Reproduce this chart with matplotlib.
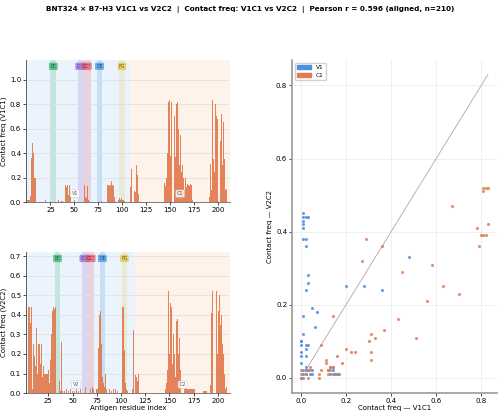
import numpy as np
import matplotlib
matplotlib.use('Agg')
import matplotlib.pyplot as plt
from matplotlib.patches import Patch

# ------------------------------------------------------------------
# Per-residue contact frequencies
# ------------------------------------------------------------------
# V1C1 : residues 1..209
v1c1 = {
    1: 0.02, 2: 0.02, 3: 0.02, 4: 0.05, 5: 0.36, 6: 0.48, 7: 0.40, 8: 0.20, 9: 0.20,
    10: 0.05, 11: 0.06, 12: 0.02, 20: 0.02, 24: 0.005, 25: 0.005, 26: 0.005, 27: 0.005,
    28: 0.005, 29: 0.005, 30: 0.005, 31: 0.005, 33: 0.02, 34: 0.025, 35: 0.02, 36: 0.02,
    37: 0.01, 38: 0.01, 41: 0.14, 42: 0.12, 43: 0.14, 44: 0.06, 45: 0.14, 46: 0.04,
    50: 0.02, 60: 0.13, 61: 0.14, 62: 0.04, 63: 0.03, 64: 0.13, 65: 0.02, 78: 0.01,
    85: 0.14, 86: 0.14, 87: 0.13, 88: 0.14, 89: 0.17, 90: 0.14, 91: 0.13, 92: 0.04,
    96: 0.02, 97: 0.03, 98: 0.02, 99: 0.03, 100: 0.02, 101: 0.02, 102: 0.01,
    109: 0.12, 110: 0.27, 113: 0.09, 114: 0.08, 115: 0.30, 116: 0.22, 117: 0.07,
    144: 0.16, 145: 0.13, 146: 0.20, 147: 0.40, 148: 0.82, 149: 0.83, 150: 0.38,
    151: 0.82, 152: 0.30, 153: 0.50, 154: 0.80, 155: 0.70, 156: 0.37, 157: 0.80,
    158: 0.82, 159: 0.60, 160: 0.30, 161: 0.55, 162: 0.25, 163: 0.30, 164: 0.20,
    165: 0.10, 166: 0.20, 167: 0.12, 168: 0.15, 169: 0.14, 170: 0.13, 171: 0.15,
    172: 0.14, 173: 0.02, 177: 0.03,
    191: 0.04, 192: 0.31, 193: 0.10, 194: 0.83, 195: 0.35, 196: 0.25, 197: 0.80,
    198: 0.70, 199: 0.68, 200: 0.30, 201: 0.82, 202: 0.82, 203: 0.50, 204: 0.72,
    205: 0.30, 206: 0.65, 207: 0.35, 208: 0.10, 209: 0.11,
}
# V2C2 : residues 1..211
v2c2 = {
    2: 0.41, 3: 0.42, 4: 0.44, 5: 0.44, 6: 0.44, 7: 0.36, 8: 0.44, 9: 0.02, 10: 0.25,
    11: 0.19, 12: 0.14, 13: 0.33, 14: 0.10, 15: 0.25, 16: 0.25, 17: 0.15, 18: 0.25,
    19: 0.08, 20: 0.14, 21: 0.10, 22: 0.10, 23: 0.10, 24: 0.10, 25: 0.12, 26: 0.05,
    27: 0.17, 28: 0.30, 29: 0.42, 30: 0.44, 31: 0.43, 32: 0.44, 33: 0.45, 34: 0.44,
    35: 0.42, 36: 0.10, 37: 0.06, 38: 0.01, 39: 0.26, 40: 0.01, 42: 0.01, 44: 0.02,
    46: 0.01, 48: 0.02, 50: 0.01, 52: 0.01, 54: 0.02, 56: 0.01, 58: 0.02, 63: 0.03,
    65: 0.02, 67: 0.03, 69: 0.02, 71: 0.03, 72: 0.02, 75: 0.02, 76: 0.02, 77: 0.23,
    78: 0.40, 79: 0.42, 80: 0.25, 81: 0.08, 82: 0.05, 83: 0.03, 84: 0.10, 85: 0.02,
    88: 0.02, 90: 0.01, 92: 0.02, 94: 0.02, 96: 0.01, 98: 0.02, 100: 0.02, 101: 0.08,
    102: 0.44, 103: 0.44, 104: 0.22, 105: 0.05, 106: 0.02, 107: 0.01, 112: 0.02,
    113: 0.32, 115: 0.09, 116: 0.08, 117: 0.06, 118: 0.10,
    146: 0.02, 147: 0.05, 148: 0.12, 149: 0.52, 150: 0.20, 151: 0.46, 152: 0.44,
    153: 0.15, 154: 0.30, 155: 0.20, 156: 0.08, 157: 0.37, 158: 0.38, 159: 0.20,
    160: 0.28, 161: 0.12, 162: 0.06, 163: 0.04, 164: 0.02, 165: 0.02, 166: 0.02,
    167: 0.03, 168: 0.02, 169: 0.02, 170: 0.02, 171: 0.02, 172: 0.02, 173: 0.02,
    174: 0.02, 175: 0.02, 176: 0.02, 185: 0.01, 186: 0.01, 187: 0.01, 188: 0.01,
    192: 0.04, 193: 0.41, 194: 0.52, 195: 0.17, 196: 0.45, 197: 0.50, 198: 0.35,
    199: 0.52, 200: 0.20, 201: 0.42, 202: 0.50, 203: 0.35, 204: 0.40, 205: 0.25,
    206: 0.20, 207: 0.10, 208: 0.02, 209: 0.03,
}
n_res1 = 209
n_res2 = 211

# Domain boundaries (V / C) and loops for each construct
dom1 = [('V1', 0, 108), ('C1', 108, 213)]
dom2 = [('V2', 0, 114), ('C2', 114, 213)]
loops1 = [('BC', 25, 31), ("C'C", 54, 58.6), ("CC'", 58.6, 67), ('DE', 74, 78.5), ('FG', 97, 102.5)]
loops2 = [('BC', 32, 37), ("C'C", 60, 65), ("CC'", 65, 72), ('DE', 78, 83.5), ('FG', 101, 106)]

# Aligned residue pairs: x = V1C1 freq, y = V2C2 freq
v_x = [0.01, 0.01, 0.02, 0.03, 0.01, 0.01, 0.01, 0.01, 0.02, 0.02, 0.03, 0.03, 0.02,
       0.20, 0.28, 0.36, 0.48, 0.05, 0.07, 0.01, 0.06, 0.01, 0.00, 0.00, 0.00, 0.02,
       0.03, 0.02, 0.00, 0.00, 0.02, 0.00, 0.02, 0.02, 0.01, 0.03, 0.05, 0.05, 0.13,
       0.14, 0.12, 0.14, 0.13, 0.14, 0.15, 0.16, 0.17, 0.00, 0.01, 0.02, 0.04, 0.01]
v_y = [0.45, 0.44, 0.44, 0.44, 0.43, 0.42, 0.41, 0.38, 0.38, 0.36, 0.28, 0.26, 0.24,
       0.25, 0.25, 0.24, 0.33, 0.19, 0.18, 0.17, 0.14, 0.12, 0.10, 0.10, 0.09, 0.09,
       0.09, 0.08, 0.07, 0.06, 0.06, 0.04, 0.03, 0.02, 0.02, 0.02, 0.02, 0.01, 0.03,
       0.03, 0.02, 0.02, 0.01, 0.01, 0.01, 0.01, 0.01, 0.00, 0.00, 0.01, 0.01, 0.01]
c_x = [0.67, 0.81, 0.82, 0.83, 0.81, 0.78, 0.83, 0.80, 0.81, 0.82, 0.79, 0.29, 0.36,
       0.27, 0.58, 0.45, 0.63, 0.70, 0.56, 0.14, 0.43, 0.37, 0.31, 0.33, 0.51, 0.30,
       0.09, 0.20, 0.22, 0.24, 0.31, 0.16, 0.31, 0.11, 0.11, 0.18, 0.04, 0.13, 0.14,
       0.02, 0.04, 0.09, 0.12, 0.13, 0.00, 0.02, 0.08, 0.15, 0.16, 0.00, 0.03, 0.08,
       0.00, 0.12]
c_y = [0.47, 0.52, 0.52, 0.52, 0.51, 0.41, 0.42, 0.39, 0.39, 0.39, 0.36, 0.38, 0.36,
       0.32, 0.31, 0.29, 0.25, 0.23, 0.21, 0.17, 0.16, 0.13, 0.12, 0.11, 0.11, 0.10,
       0.09, 0.08, 0.07, 0.07, 0.07, 0.06, 0.05, 0.05, 0.04, 0.04, 0.03, 0.03, 0.03,
       0.02, 0.02, 0.02, 0.02, 0.02, 0.01, 0.01, 0.01, 0.01, 0.01, 0.00, 0.00, 0.00,
       0.02, 0.01]

title = ("BNT324 \u00d7 B7-H3 V1C1 vs V2C2  |  Contact freq: V1C1 vs V2C2  |  "
         "Pearson r = 0.596 (aligned, n=210)")

# ------------------------------------------------------------------
bar_color = '#e0703f'
dom_colors = {'V': '#e6f1fd', 'C': '#fdf0e6'}
loop_colors = {'BC': '#3cb371', "C'C": '#9370db', "CC'": '#e06070', 'DE': '#4a9be0', 'FG': '#e6c84a'}
loop_text = {'BC': '#1e6b3c', "C'C": '#4b2a8a', "CC'": '#8b1e2e', 'DE': '#1d4f80', 'FG': '#6b5a10'}

plt.rcParams['font.size'] = 5
plt.rcParams['axes.linewidth'] = 0.6

fig = plt.figure(figsize=(5.0, 4.16), dpi=100)
ax1 = fig.add_axes([0.052, 0.514, 0.408, 0.342])
ax2 = fig.add_axes([0.052, 0.055, 0.408, 0.339])
ax3 = fig.add_axes([0.584, 0.055, 0.41, 0.801])


def profile(ax, freqs, n_res, doms, loops, ylab, ymax, xlim):
    res = np.arange(1, n_res + 1)
    vals = np.array([freqs.get(r, 0.0) for r in res])
    for name, a, b in doms:
        ax.axvspan(a, b, color=dom_colors[name[0]], alpha=0.8, lw=0, zorder=0)
    for i, (name, a, b) in enumerate(loops):
        ax.axvspan(a, b, color=loop_colors[name], alpha=0.22, lw=0, zorder=1)
        ax.text((a + b) / 2, ymax * 0.955, name, ha='center', va='center', fontsize=3.4,
                color=loop_text[name], zorder=5 + i,
                bbox=dict(boxstyle='round,pad=0.25', fc=loop_colors[name], ec='none', alpha=0.75))
    ax.bar(res, vals, width=0.9, color=bar_color, alpha=0.85, lw=0, zorder=3)
    for name, a, b in doms:
        cx = a + (b - a) * (0.47 if name[0] == 'V' else 0.5)
        ax.text(cx, ymax * 0.06, name, ha='center', va='center', fontsize=3.6, color='#555555',
                zorder=12, bbox=dict(boxstyle='round,pad=0.25', fc='white', ec='#bbbbbb', lw=0.3, alpha=0.8))
    ax.set_xlim(*xlim)
    ax.set_ylim(0, ymax)
    ax.set_xticks([25, 50, 75, 100, 125, 150, 175, 200])
    ax.grid(axis='y', color='#dddddd', lw=0.5, zorder=2)
    ax.set_axisbelow(False)
    ax.set_ylabel(ylab, fontsize=5, labelpad=2)
    for s in ['top', 'right']:
        ax.spines[s].set_visible(False)
    ax.spines['left'].set_color('#444444')
    ax.spines['bottom'].set_color('#666666')
    ax.tick_params(length=2, width=0.5, pad=1.5, labelsize=5)


profile(ax1, v1c1, n_res1, dom1, loops1, 'Contact freq (V1C1)', 1.16, (-0.5, 212.5))
ax1.set_yticks([0, 0.2, 0.4, 0.6, 0.8, 1.0])
profile(ax2, v2c2, n_res2, dom2, loops2, 'Contact freq (V2C2)', 0.72, (2, 212.5))
ax2.set_yticks([0, 0.1, 0.2, 0.3, 0.4, 0.5, 0.6, 0.7])
ax2.set_xlabel('Antigen residue index', fontsize=5, labelpad=1)

# Scatter of aligned residues
ax3.scatter(v_x, v_y, s=5, color='#4a8fe0', alpha=0.85, lw=0, zorder=3)
ax3.scatter(c_x, c_y, s=5, color='#e07b54', alpha=0.85, lw=0, zorder=3)
all_x = v_x + c_x
lo, hi = min(all_x) + 0.03, max(all_x)
ax3.plot([lo, hi], [lo, hi], color='#aaaaaa', lw=0.6, zorder=2)
ax3.set_xlim(-0.04, 0.87)
ax3.set_ylim(-0.042, 0.87)
ax3.set_xticks([0.0, 0.2, 0.4, 0.6, 0.8])
ax3.set_yticks([0.0, 0.2, 0.4, 0.6, 0.8])
ax3.grid(color='#eeeeee', lw=0.6, zorder=0)
ax3.set_xlabel('Contact freq \u2014 V1C1', fontsize=5, labelpad=1)
ax3.set_ylabel('Contact freq \u2014 V2C2', fontsize=5, labelpad=2)
for s in ['top', 'right']:
    ax3.spines[s].set_visible(False)
for s in ['left', 'bottom']:
    ax3.spines[s].set_color('#999999')
    ax3.spines[s].set_linewidth(1.2)
ax3.tick_params(length=2, width=0.5, pad=1.5, labelsize=5)
ax3.legend(handles=[Patch(color='#4a8fe0', label='V1'), Patch(color='#e07b54', label='C1')],
           loc='upper left', fontsize=4.2, handlelength=2.4, handleheight=0.6,
           borderpad=0.4, labelspacing=0.5, frameon=True, framealpha=0.9, edgecolor='#cccccc',
           fancybox=True)

fig.suptitle(title, fontsize=5.2, fontweight='bold', y=0.985)

fig.savefig('out.png', dpi=100)
